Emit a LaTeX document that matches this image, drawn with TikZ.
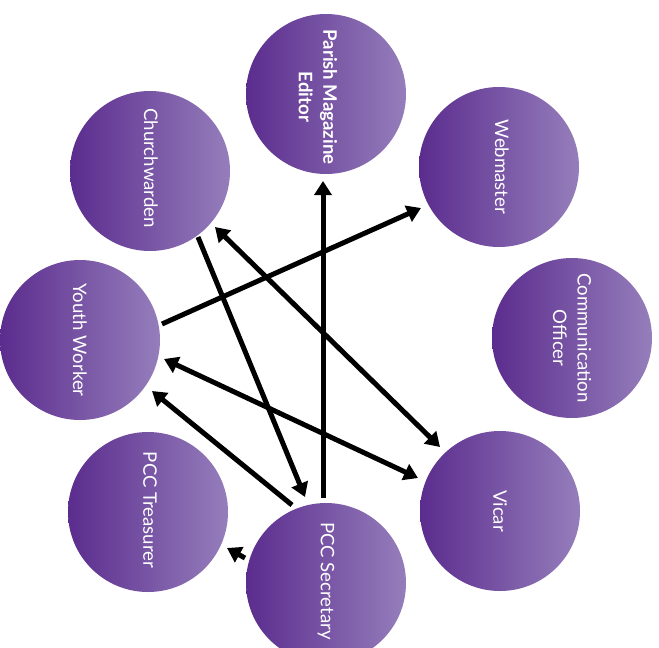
\documentclass[tikz,border=0pt]{standalone}
\usepackage{fontspec}
\setmainfont{Lato}
\usetikzlibrary{arrows.meta,calc}
\definecolor{pdark}{HTML}{5B2C8E}
\definecolor{plight}{HTML}{957EBB}
\tikzset{
  role/.style={circle, minimum size=160pt, inner sep=0pt, outer sep=0pt, left color=pdark, right color=plight, draw=none},
  lbl/.style={text=white, rotate=-90, align=center, font=\fontsize{18.6}{24.5}\selectfont, inner sep=0pt},
  arr/.style={line width=5pt, -{Triangle[length=14pt,width=17pt]}},
  darr/.style={line width=5pt, {Triangle[length=14pt,width=17pt]}-{Triangle[length=14pt,width=17pt]}},
}
\begin{document}
\begin{tikzpicture}[x=1pt,y=-1pt]
\useasboundingbox (0,0) rectangle (659,648);
\clip (0,0) rectangle (659,648);
\node[role] (P) at (326,94) {};
\node[role] (C) at (150,171) {};
\node[role] (W) at (499,167) {};
\node[role] (Y) at (80,340) {};
\node[role] (CO) at (572,338) {};
\node[role] (T) at (148,512) {};
\node[role] (V) at (500,511) {};
\node[role] (S) at (326,583) {};
\node[lbl] (Pt) at ($(P.center)+(-8,3)$) {\bfseries Parish Magazine\\\bfseries Editor};
\node[lbl] (Ct) at ($(C.center)+(1,-3)$) {Churchwarden};
\node[lbl] (Wt) at ($(W.center)+(3,0)$) {Webmaster};
\node[lbl] (Yt) at (Y.center) {Youth Worker};
\node[lbl] (COt) at (CO.center) {Communication\\Officer};
\node[lbl] (Tt) at ($(T.center)+(2,-2)$) {PCC Treasurer};
\node[lbl] (Vt) at (V.center) {Vicar};
\node[lbl] (St) at ($(S.center)+(0,-2)$) {PCC Secretary};
\draw[arr] ($(Y.center)+(82,-16)$) -- ($(W.center)+(-78,41)$);
\draw[arr] ($(C.center)+(48,66)$) -- ($(S.center)+(-21,-86)$);
\draw[darr] ($(C.center)+(65,56)$) -- ($(V.center)+(-60,-64)$);
\draw[arr] ($(S.center)+(-3,-85)$) -- ($(P.center)+(-3,87)$);
\draw[darr] ($(Y.center)+(84,19)$) -- ($(V.center)+(-82,-33)$);
\draw[arr] ($(S.center)+(-34,-78)$) -- ($(Y.center)+(72,51)$);
\draw[arr] ($(S.center)+(-81,-25)$) -- ($(T.center)+(79,36)$);
\end{tikzpicture}
\end{document}
